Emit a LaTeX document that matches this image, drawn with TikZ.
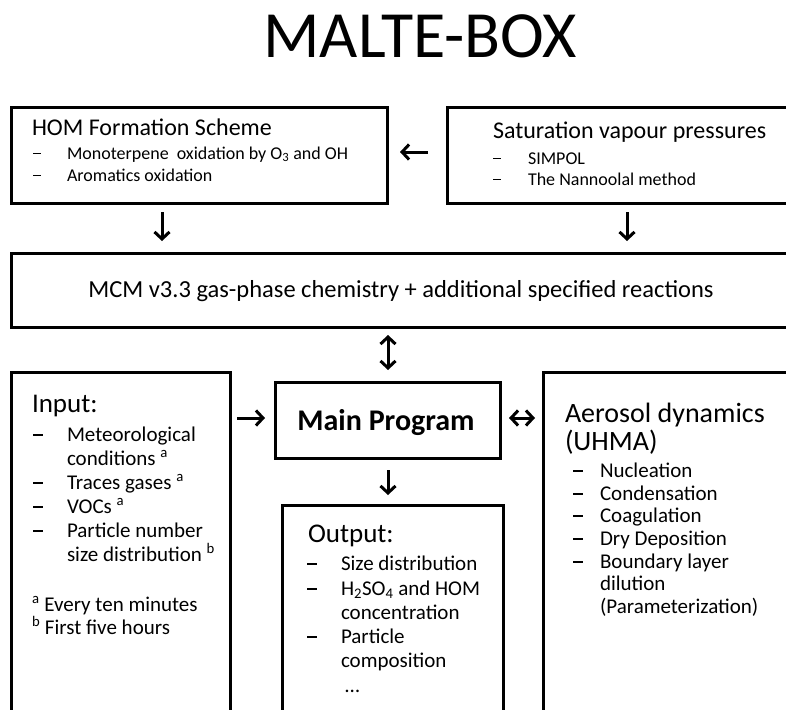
\documentclass[tikz,border=0pt]{standalone}
\usepackage{fontspec}
\setmainfont{Carlito}
\usetikzlibrary{arrows.meta}
\newcommand\dsh[1]{\makebox[#1][l]{\rule[0.26em]{0.47em}{0.06em}}}
\begin{document}
\begin{tikzpicture}[x=1pt,y=-1pt,
  box/.style={draw, line width=3pt, inner sep=0pt, outer sep=0pt, anchor=north west},
  txt/.style={anchor=base west, inner sep=0pt, outer sep=0pt},
  hdA/.style={font=\fontsize{24}{28}\selectfont},
  smA/.style={font=\fontsize{18}{22}\selectfont},
  hdB/.style={font=\fontsize{27}{32}\selectfont},
  hdC/.style={font=\fontsize{28}{32}\selectfont},
  smB/.style={font=\fontsize{21}{24}\selectfont},
  arr/.style={line width=3pt, -{Straight Barb[length=7pt,width=15pt]}},
  darr/.style={line width=3pt, {Straight Barb[length=7pt,width=15pt]}-{Straight Barb[length=7pt,width=15pt]}}]
\useasboundingbox (0,0) rectangle (786,709);
\clip (0,0) rectangle (786,709);

% title
\node[inner sep=0pt, anchor=base, font=\fontsize{66}{78}\selectfont] (title) at (420,57) {MALTE-BOX};

% boxes
\node[box, minimum width=376pt, minimum height=96pt] (hom) at (11,107) {};
\node[box, minimum width=360pt, minimum height=96pt] (sat) at (447,107) {};
\node[box, minimum width=790pt, minimum height=74pt] (mcm) at (11,253) {};
\node[box, minimum width=219pt, minimum height=360pt] (inp) at (11,372) {};
\node[box, minimum width=225pt, minimum height=76pt] (main) at (275,382) {};
\node[box, minimum width=221pt, minimum height=230pt] (out) at (282,505) {};
\node[box, minimum width=260pt, minimum height=360pt] (aer) at (543,372) {};

% arrow coordinates
\coordinate (xa) at (162,0);
\coordinate (xb) at (627,0);
\coordinate (xc) at (388,0);
\coordinate (ya) at (0,152);
\coordinate (yb) at (0,418);

\draw[arr, shorten <=9pt, shorten >=12pt] (hom.south -| xa) -- (mcm.north -| xa);
\draw[arr, shorten <=9pt, shorten >=12pt] (sat.south -| xb) -- (mcm.north -| xb);
\draw[arr, shorten <=19pt, shorten >=13pt] (sat.west |- ya) -- (hom.east |- ya);
\draw[darr, shorten <=8pt, shorten >=12pt] (mcm.south -| xc) -- (main.north -| xc);
\draw[arr, shorten <=7pt, shorten >=10pt] (inp.east |- yb) -- (main.west |- yb);
\draw[darr, shorten <=9pt, shorten >=8pt] (main.east |- yb) -- (aer.west |- yb);
\draw[arr, shorten <=12pt, shorten >=10pt] (main.south -| xc) -- (out.north -| xc);

% HOM text
\node[txt, hdA] (homh) at (32,135) {HOM Formation Scheme};
\node[txt, smA] (homi1) at (33,159) {\dsh{34pt}Monoterpene\ \ oxidation by O\textsubscript{3} and OH};
\node[txt, smA] (homi2) at (33,181) {\dsh{34pt}Aromatics oxidation};

% Saturation text
\node[txt, hdA] (sath) at (493,138) {Saturation vapour\ pressures};
\node[txt, smA] (sati1) at (493,164) {\dsh{35pt}SIMPOL};
\node[txt, smA] (sati2) at (493,185) {\dsh{35pt}The Nannoolal method};

% MCM text
\node[inner sep=0pt, anchor=base, font=\fontsize{24.5}{28}\selectfont] (mcmt) at (401,297) {MCM v3.3 gas-phase chemistry + additional specified reactions};

% Main program
\node[inner sep=0pt, anchor=base, font=\fontsize{30}{36}\selectfont\bfseries] (maint) at (386,430) {Main Program};

% Input text
\node[txt, hdB] (inph) at (32,412) {Input:};
\node[txt, smB] (inpi1) at (33,441) {\dsh{34pt}Meteorological};
\node[txt, smB] (inpi1b) at (67,465) {conditions \textsuperscript{a}};
\node[txt, smB] (inpi2) at (33,489) {\dsh{34pt}Traces gases \textsuperscript{a}};
\node[txt, smB] (inpi3) at (33,513) {\dsh{34pt}VOCs \textsuperscript{a}};
\node[txt, smB] (inpi4) at (33,537) {\dsh{34pt}Particle number};
\node[txt, smB] (inpi4b) at (67,561) {size distribution \textsuperscript{b}};
\node[txt, smB] (inpf1) at (32,611) {\textsuperscript{a} Every ten minutes};
\node[txt, smB] (inpf2) at (32,634) {\textsuperscript{b} First five hours};

% Output text
\node[txt, hdB] (outh) at (308,542) {Output:};
\node[txt, smB] (outi1) at (307,570) {\dsh{34pt}Size distribution};
\node[txt, smB] (outi2) at (307,595) {\dsh{34pt}H\textsubscript{2}SO\textsubscript{4} and HOM};
\node[txt, smB] (outi2b) at (341,619) {concentration};
\node[txt, smB] (outi3) at (307,643) {\dsh{34pt}Particle};
\node[txt, smB] (outi3b) at (341,667) {composition};
\node[txt, smB] (outi4) at (345,692) {…};

% Aerosol text
\node[txt, hdC] (aerh1) at (565,422) {Aerosol dynamics};
\node[txt, hdC] (aerh2) at (565,450) {(UHMA)};
\node[txt, smB] (aeri1) at (573,477) {\dsh{27pt}Nucleation};
\node[txt, smB] (aeri2) at (573,500) {\dsh{27pt}Condensation};
\node[txt, smB] (aeri3) at (573,522) {\dsh{27pt}Coagulation};
\node[txt, smB] (aeri4) at (573,545) {\dsh{27pt}Dry Deposition};
\node[txt, smB] (aeri5) at (573,568) {\dsh{27pt}Boundary layer};
\node[txt, smB] (aeri5b) at (600,590) {dilution};
\node[txt, smB] (aeri5c) at (600,613) {(Parameterization)};
\end{tikzpicture}
\end{document}
